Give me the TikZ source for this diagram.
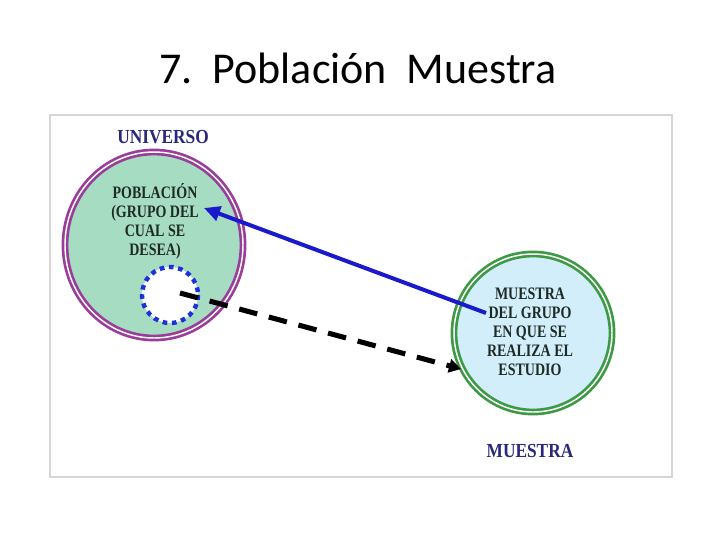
\documentclass[tikz,border=0pt]{standalone}
\usepackage{fontspec}
\setmainfont{Liberation Serif}
\newfontfamily\titlefont{Carlito}
\usetikzlibrary{arrows.meta}
\definecolor{navy}{HTML}{28287C}
\definecolor{ink}{HTML}{1E2A24}
\definecolor{mint}{HTML}{A6DCC2}
\definecolor{skyfill}{HTML}{D2EEFA}
\definecolor{ringpurple}{HTML}{9A3C9A}
\definecolor{ringgreen}{HTML}{3C9A44}
\definecolor{arrowblue}{HTML}{1A1ACC}
\definecolor{dotblue}{HTML}{1C30DC}
\definecolor{framegray}{HTML}{D6D6D6}
\newcommand{\tallbox}[1]{\scalebox{1}[1.25]{\begin{tabular}{@{}c@{}}#1\end{tabular}}}

\begin{document}
\begin{tikzpicture}[x=0.75pt,y=-0.75pt,
  lbl/.style={font=\fontsize{13}{15}\selectfont\bfseries,text=navy},
  body/.style={inner sep=0pt,font=\fontsize{10.5}{11.4}\selectfont\bfseries,text=ink}]
\useasboundingbox (0,0) rectangle (720,540);
\node[font=\titlefont\fontsize{33}{38}\selectfont] (title) at (358,68) {7.\hspace{0.45em}Población\hspace{0.45em}Muestra};
\draw[line width=2.2pt,draw=framegray,fill=white] (50,115) rectangle (672,477);
% universo
\draw[fill=mint,draw=ringpurple,line width=2pt,double=white,double distance=1.1pt] (154,245) ellipse [x radius=89,y radius=93];
\node[lbl] (universo) at (163,137) {\scalebox{1}[1.15]{UNIVERSO}};
\node[body] (poblacion) at (155,222) {\tallbox{POBLACIÓN\\(GRUPO DEL\\CUAL SE\\DESEA)}};
\draw[fill=white,draw=dotblue,line width=3.3pt,dash pattern=on 3.5pt off 3.5pt] (170,295) circle [radius=28];
% muestra
\draw[fill=skyfill,draw=ringgreen,line width=2pt,double=white,double distance=1.1pt] (533,333) circle [radius=79];
\node[body] (grupo) at (530,334) {\tallbox{MUESTRA\\DEL GRUPO\\EN QUE SE\\REALIZA EL\\ESTUDIO}};
\node[lbl] (muestra) at (530,451) {\scalebox{1}[1.15]{MUESTRA}};
% flechas
\coordinate (bstart) at (486,313);
\coordinate (bend) at (204,208);
\coordinate (dstart) at (180,293);
\coordinate (dend) at (461,369);
\draw[arrowblue,line width=3pt,-{Triangle[length=12pt,width=11pt]}] (bstart) -- (bend);
\draw[black,line width=3.8pt,dash pattern=on 14pt off 9pt,-{Triangle[length=9pt,width=10pt]}] (dstart) -- (dend);
\end{tikzpicture}
\end{document}
